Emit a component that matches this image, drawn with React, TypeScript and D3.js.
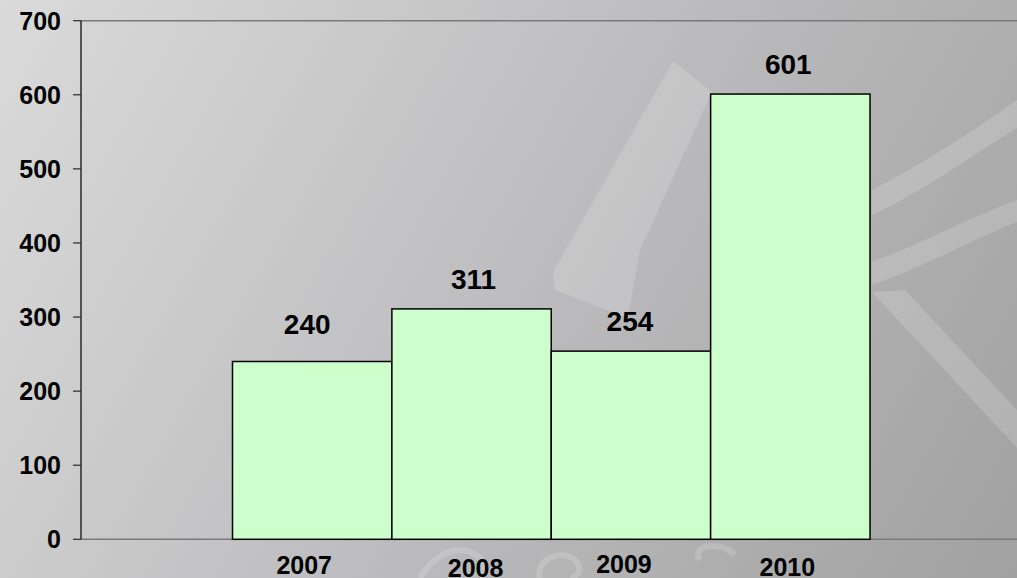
import React from "react";
import * as d3 from "d3";

// chart data
const years = ["2007", "2008", "2009", "2010"];
const counts = [240, 311, 254, 601];
const yTicks = [0, 100, 200, 300, 400, 500, 600, 700];

// small per-label nudges seen in the original layout
const valueNudge = [
  [-5, -7],
  [2, 0],
  [-1, 0],
  [-2, 0],
];
const yearNudge = [
  [-8, 35],
  [4, 38],
  [-7, 34],
  [-3, 37],
];

const W = 1017;
const H = 578;
const FONT = "'Liberation Sans', Arial, sans-serif";

const App = () => {
  const plotLeft = 81;
  const plotTop = 20.7;
  const plotBottom = 539.3;

  const y = d3.scaleLinear().domain([0, 700]).range([plotBottom, plotTop]);
  const x = d3.scaleBand().domain(years).range([232.5, 870]).padding(0);

  return (
    <svg
      width={W}
      height={H}
      style={{ position: "absolute", left: 0, top: 0 }}
      fontFamily={FONT}
      fontWeight="bold"
    >
      <defs>
        <linearGradient id="bg" gradientUnits="userSpaceOnUse" x1="0" y1="0" x2={W} y2={H}>
          <stop offset="0" stopColor="#dadada" />
          <stop offset="0.5" stopColor="#bdbdbf" />
          <stop offset="1" stopColor="#a1a1a1" />
        </linearGradient>
      </defs>
      <rect width={W} height={H} fill="url(#bg)" />

      {/* faint watermark shapes */}
      <g fill="#ffffff" opacity={0.16}>
        <path d="M673,61 L712,92 L640,250 L628,318 L555,290 L553,272 Z" />
        <path d="M872,190 C920,165 960,140 1017,100 L1017,128 C965,160 925,190 872,215 Z" />
        <path d="M872,262 C930,240 975,215 1017,200 L1017,222 C975,238 935,262 872,285 Z" />
        <path d="M872,292 L905,290 L1017,410 L1017,448 Z" />
        <path d="M700,560 C690,545 720,540 735,555" fill="none" stroke="#fff" strokeWidth={6} />
        <path d="M420,578 C430,560 450,545 470,552 C490,560 485,578 480,578" fill="none" stroke="#fff" strokeWidth={6} />
        <path d="M540,578 C535,560 560,548 575,560 C585,570 575,578 570,578" fill="none" stroke="#fff" strokeWidth={6} />
      </g>

      {/* plot frame lines */}
      <line x1={plotLeft} x2={W} y1={plotTop} y2={plotTop} stroke="#7a7a7a" strokeWidth={1.5} />
      <line x1={plotLeft} x2={W} y1={plotBottom} y2={plotBottom} stroke="#7a7a7a" strokeWidth={1.5} />

      {/* bars */}
      {years.map((yr, i) => (
        <rect
          key={yr}
          x={x(yr)}
          y={y(counts[i])}
          width={x.bandwidth()}
          height={plotBottom - y(counts[i])}
          fill="#ccffcc"
          stroke="#000"
          strokeWidth={1.5}
        />
      ))}

      {/* y axis */}
      <line x1={plotLeft} x2={plotLeft} y1={plotTop} y2={plotBottom} stroke="#2a2a2a" strokeWidth={1.5} />
      {yTicks.map((t) => (
        <g key={t} transform={`translate(0,${y(t)})`}>
          <line x1={73} x2={plotLeft} stroke="#2a2a2a" strokeWidth={1.2} />
          <text x={61} dy="0.36em" textAnchor="end" fontSize={25} fill="#000">
            {t}
          </text>
        </g>
      ))}

      {/* value labels */}
      {years.map((yr, i) => (
        <text
          key={yr}
          x={(x(yr) as number) + x.bandwidth() / 2 + valueNudge[i][0]}
          y={y(counts[i]) - 20 + valueNudge[i][1]}
          textAnchor="middle"
          fontSize={28}
          fill="#000"
        >
          {counts[i]}
        </text>
      ))}

      {/* category labels */}
      {years.map((yr, i) => (
        <text
          key={yr}
          x={(x(yr) as number) + x.bandwidth() / 2 + yearNudge[i][0]}
          y={plotBottom + yearNudge[i][1]}
          textAnchor="middle"
          fontSize={25}
          fill="#000"
        >
          {yr}
        </text>
      ))}
    </svg>
  );
};

export default App;
